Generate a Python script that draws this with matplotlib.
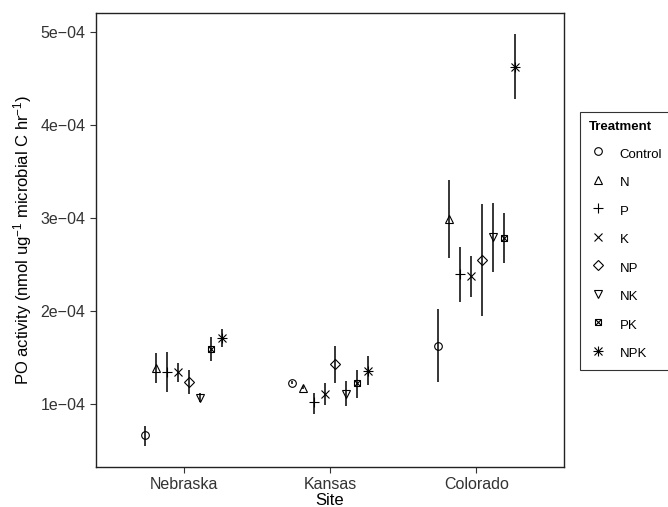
import numpy as np
import matplotlib
matplotlib.use("Agg")
import matplotlib.pyplot as plt
from matplotlib.lines import Line2D
from matplotlib.legend_handler import HandlerTuple

plt.rcParams['font.family'] = ['Liberation Sans', 'DejaVu Sans']
plt.rcParams['mathtext.fontset'] = 'custom'
plt.rcParams['mathtext.rm'] = 'Liberation Sans'
plt.rcParams['mathtext.it'] = 'Liberation Sans:italic'
plt.rcParams['mathtext.bf'] = 'Liberation Sans:bold'

# data (values x 1e-4)
sites = ['Nebraska', 'Kansas', 'Colorado']
treatments = ['Control', 'N', 'P', 'K', 'NP', 'NK', 'PK', 'NPK']

nebraska_mean = [0.657, 1.386, 1.343, 1.343, 1.236, 1.064, 1.590, 1.708]
nebraska_lo = [0.539, 1.225, 1.129, 1.236, 1.107, 1.011, 1.461, 1.611]
nebraska_hi = [0.753, 1.547, 1.558, 1.440, 1.365, 1.118, 1.718, 1.804]

kansas_mean = [1.225, 1.172, 1.011, 1.107, 1.429, 1.107, 1.225, 1.354]
kansas_lo = [1.205, 1.155, 0.882, 0.979, 1.225, 0.968, 1.064, 1.204]
kansas_hi = [1.245, 1.190, 1.118, 1.225, 1.622, 1.247, 1.365, 1.515]

colorado_mean = [1.622, 2.984, 2.394, 2.373, 2.544, 2.791, 2.780, 4.625]
colorado_lo = [1.236, 2.566, 2.094, 2.147, 1.944, 2.416, 2.512, 4.271]
colorado_hi = [2.019, 3.402, 2.684, 2.587, 3.145, 3.156, 3.048, 4.979]

ytick_vals = [1e-4, 2e-4, 3e-4, 4e-4, 5e-4]
ytick_labels = ['1e\u221204', '2e\u221204', '3e\u221204', '4e\u221204', '5e\u221204']

scale = 1e-4
means = np.array([nebraska_mean, kansas_mean, colorado_mean]) * scale
los = np.array([nebraska_lo, kansas_lo, colorado_lo]) * scale
his = np.array([nebraska_hi, kansas_hi, colorado_hi]) * scale

# shapes like ggplot 1..8
ms = 5.5
shapes = {
    'Control': [('o', ms)],
    'N': [('^', ms)],
    'P': [('+', ms * 1.3)],
    'K': [('x', ms * 0.95)],
    'NP': [('D', ms * 0.85)],
    'NK': [('v', ms)],
    'PK': [('s', ms * 0.8), ('x', ms * 0.8)],
    'NPK': [('+', ms * 1.3), ('x', ms * 0.95)],
}

fig = plt.figure(figsize=(6.68, 5.07), dpi=100)
ax = fig.add_axes([96 / 668, 1 - 467 / 507, (564 - 96) / 668, (467 - 13) / 507])

xpos = np.arange(1, len(sites) + 1)
dodge = 0.075
handles = []
for i, t in enumerate(treatments):
    x = xpos + (i - 3.5) * dodge
    ax.vlines(x, los[:, i], his[:, i], color='black', lw=1.1, zorder=2)
    hs = []
    for m, s in shapes[t]:
        ax.plot(x, means[:, i], ls='none', marker=m, markersize=s,
                markerfacecolor='none', markeredgecolor='black',
                markeredgewidth=0.8, zorder=3)
        hs.append(Line2D([], [], ls='none', marker=m, markersize=s,
                         markerfacecolor='none', markeredgecolor='black',
                         markeredgewidth=0.8))
    handles.append(tuple(hs))

# ggplot style limits
rng = his.max() - los.min()
ax.set_ylim(los.min() - 0.05 * rng, his.max() + 0.05 * rng)
ax.set_xlim(0.4, 3.6)

ax.set_xticks(xpos)
ax.set_xticklabels(sites)
ax.set_yticks(ytick_vals)
ax.set_yticklabels(ytick_labels)
ax.tick_params(axis='both', direction='out', length=4, width=0.8,
               color='#333333', labelsize=11.5, labelcolor='#333333', pad=3.5)
for sp in ax.spines.values():
    sp.set_linewidth(1.0)
    sp.set_color('#222222')

ax.set_xlabel('Site', fontsize=12, labelpad=0.5)
ax.set_ylabel('PO activity (nmol ug$^{-1}$ microbial C hr$^{-1}$)', fontsize=12, labelpad=5)

leg = fig.legend(handles, treatments, handler_map={tuple: HandlerTuple(ndivide=1)},
                 loc='lower left', bbox_to_anchor=(580 / 668, 1 - 370 / 507),
                 borderaxespad=0, frameon=True, fancybox=False, edgecolor='black',
                 fontsize=9.5, title='Treatment',
                 title_fontproperties={'weight': 'bold', 'size': 9.5},
                 alignment='left', handlelength=1.4, handleheight=1.5,
                 handletextpad=0.9, labelspacing=0.94, borderpad=0.7)
leg.get_frame().set_linewidth(0.8)

fig.savefig('out.png', dpi=100)
